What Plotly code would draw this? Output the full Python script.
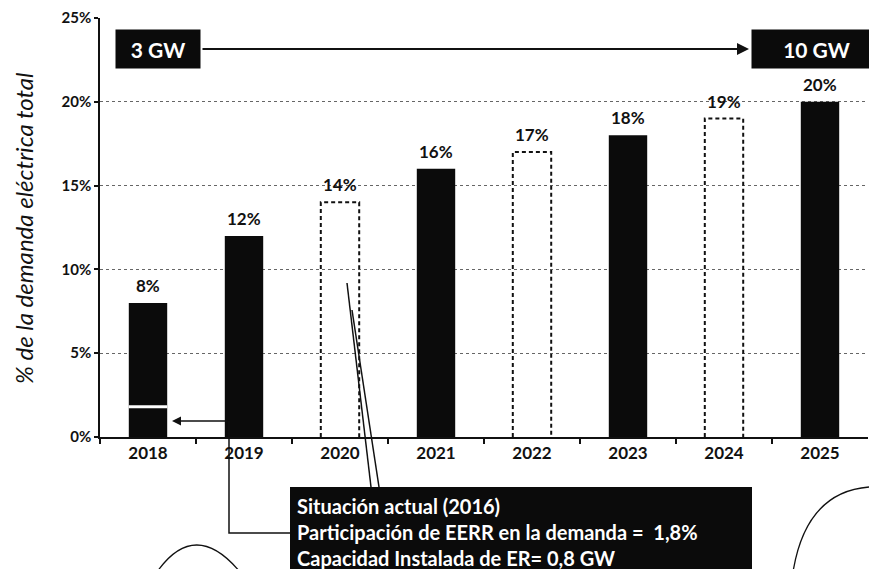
import plotly.graph_objects as go

years = ["2018", "2019", "2020", "2021", "2022", "2023", "2024", "2025"]
shares = [8, 12, 14, 16, 17, 18, 19, 20]
projected = [False, False, True, False, True, False, True, False]
labels = ["8%", "12%", "14%", "16%", "17%", "18%", "19%", "20%"]
current_share = 1.8
y_ticks = [0, 5, 10, 15, 20, 25]
y_tick_labels = ["0%", "5%", "10%", "15%", "20%", "25%"]
start_cap = "3 GW"
end_cap = "10 GW"
callout_lines = ["Situación actual (2016)",
                 "Participación de EERR en la demanda =  1,8%",
                 "Capacidad Instalada de ER= 0,8 GW"]
y_title = "% de la demanda eléctrica total"

FONT = "Lato"
BAR_W = 0.4
L, R, T, B = 100, 868, 18, 437
W_FIG, H_FIG = 869, 569


def px(x):
    return (x - L) / (R - L)


def py(y):
    return (B - y) / (B - T)


xs = list(range(len(years)))
fig = go.Figure()

# solid bars
fig.add_trace(go.Bar(
    x=[x for x, p in zip(xs, projected) if not p],
    y=[v for v, p in zip(shares, projected) if not p],
    width=BAR_W, marker=dict(color="#0b0b0b", line=dict(width=0)),
    showlegend=False, hoverinfo="skip"))

# dashed (projected) bars
for x, v, p in zip(xs, shares, projected):
    if p:
        fig.add_trace(go.Scatter(
            x=[x - BAR_W / 2, x - BAR_W / 2, x + BAR_W / 2, x + BAR_W / 2],
            y=[0, v, v, 0], mode="lines",
            line=dict(color="#111", width=2, dash="4px,3px"),
            showlegend=False, hoverinfo="skip"))

# current share separator in the 2018 bar
fig.add_trace(go.Scatter(
    x=[xs[0] - BAR_W / 2, xs[0] + BAR_W / 2], y=[current_share, current_share],
    mode="lines", line=dict(color="white", width=3),
    showlegend=False, hoverinfo="skip"))

annotations = []
for x, v, lab in zip(xs, shares, labels):
    annotations.append(dict(x=x, y=v, xref="x", yref="y", text=lab, showarrow=False,
                            xanchor="center", yanchor="bottom", yshift=5,
                            font=dict(family=FONT, size=17, color="#111", weight="bold")))

# capacity boxes and arrow
annotations.append(dict(x=px(158), y=py(49), xref="paper", yref="paper", text=start_cap,
                        xanchor="center", yanchor="middle",
                        showarrow=False, bgcolor="#0b0b0b", width=70, height=24, borderpad=7,
                        font=dict(family=FONT, size=21, color="white", weight="bold")))
annotations.append(dict(x=px(816), y=py(49), xref="paper", yref="paper", text=end_cap,
                        xanchor="center", yanchor="middle",
                        showarrow=False, bgcolor="#0b0b0b", width=115, height=24, borderpad=7,
                        font=dict(family=FONT, size=21, color="white", weight="bold")))
annotations.append(dict(x=px(749), y=py(49), xref="paper", yref="paper", text="",
                        showarrow=True, ax=201 - 749, ay=0, axref="pixel", ayref="pixel",
                        arrowhead=2, arrowsize=1.2, arrowwidth=2, arrowcolor="#111"))

# arrow pointing to 2018 bar
annotations.append(dict(x=px(172), y=py(421), xref="paper", yref="paper", text="",
                        showarrow=True, ax=229 - 172, ay=0, axref="pixel", ayref="pixel",
                        arrowhead=2, arrowsize=1.2, arrowwidth=1.5, arrowcolor="#111"))

# callout text
annotations.append(dict(x=px(295), y=py(492), xref="paper", yref="paper",
                        text="<br>".join(callout_lines), showarrow=False,
                        xanchor="left", yanchor="top", align="left",
                        font=dict(family=FONT, size=20, color="white", weight="bold")))

# y title
annotations.append(dict(x=px(23), y=py(228), xref="paper", yref="paper", text=y_title,
                        textangle=-90, showarrow=False, xanchor="center", yanchor="middle",
                        font=dict(family=FONT, size=24, color="#111", style="italic")))

shapes = []
shapes.append(dict(type="rect", xref="paper", yref="paper",
                   x0=px(290), x1=px(752), y0=py(487), y1=py(580),
                   fillcolor="#0b0b0b", line=dict(width=0), layer="above"))
# connector from callout to 2018 bar
shapes.append(dict(type="path", xref="paper", yref="paper",
                   path=f"M {px(290)} {py(533)} L {px(229)} {py(533)} L {px(229)} {py(421)}",
                   line=dict(color="#111", width=1.5)))
# double lines pointing to 2020
shapes.append(dict(type="line", xref="paper", yref="paper",
                   x0=px(347), y0=py(283), x1=px(371), y1=py(487),
                   line=dict(color="#111", width=1.5)))
shapes.append(dict(type="line", xref="paper", yref="paper",
                   x0=px(352), y0=py(310), x1=px(379), y1=py(487),
                   line=dict(color="#111", width=1.5)))
# hand-drawn curves
shapes.append(dict(type="path", xref="paper", yref="paper",
                   path=f"M {px(157)} {py(572)} Q {px(195)} {py(518)} {px(240)} {py(572)}",
                   line=dict(color="#111", width=1.3)))
shapes.append(dict(type="path", xref="paper", yref="paper",
                   path=f"M {px(793)} {py(572)} Q {px(806)} {py(492)} {px(869)} {py(487)}",
                   line=dict(color="#111", width=1.3)))

fig.update_layout(
    width=W_FIG, height=H_FIG,
    margin=dict(l=L, r=W_FIG - R, t=T, b=H_FIG - B, pad=0),
    plot_bgcolor="white", paper_bgcolor="white",
    barmode="overlay", showlegend=False,
    annotations=annotations, shapes=shapes,
    xaxis=dict(range=[-0.5, len(years) - 0.5], tickmode="array", tickvals=xs, ticktext=years,
               ticks="", showline=True, linecolor="#111", linewidth=1.5, showgrid=False,
               zeroline=False, fixedrange=True,
               tickfont=dict(family=FONT, size=17, color="#111", weight="bold"),
               minor=dict(tickmode="array", tickvals=[x + 0.5 for x in xs[:-1]] + [-0.5],
                          ticks="outside", ticklen=5, tickcolor="#111", tickwidth=1.5)),
    yaxis=dict(range=[0, 25], tickmode="array", tickvals=y_ticks, ticktext=y_tick_labels,
               ticks="outside", ticklen=4, tickcolor="#111", tickwidth=1.5,
               showline=True, linecolor="#111", linewidth=1.5,
               showgrid=True, gridcolor="#666", griddash="dot", gridwidth=1,
               zeroline=False, fixedrange=True,
               tickfont=dict(family=FONT, size=15, color="#111", weight="bold")),
)

fig.write_html("out.html", config={"displayModeBar": False},
               post_script="document.body.style.margin='0px';")
